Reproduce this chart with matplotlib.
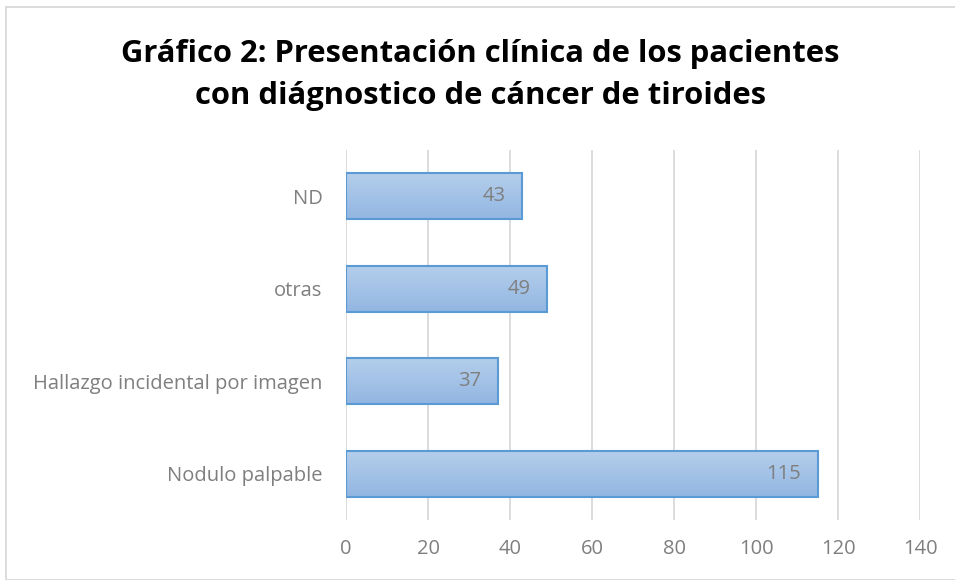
import numpy as np
import matplotlib.pyplot as plt
from matplotlib.patches import Rectangle
from matplotlib.colors import LinearSegmentedColormap

categories = ["Nodulo palpable", "Hallazgo incidental por imagen", "otras", "ND"]
values = [115, 37, 49, 43]
xticks = [0, 20, 40, 60, 80, 100, 120, 140]

title = "Gráfico 2: Presentación clínica de los pacientes\ncon diágnostico de cáncer de tiroides"

plt.rcParams['font.family'] = ['Open Sans', 'DejaVu Sans']

fig = plt.figure(figsize=(9.55, 5.8), dpi=100)
ax = fig.add_axes([346 / 955, 1 - 520 / 580, (920 - 346) / 955, (520 - 150) / 580])

# chart border
fig.patches.append(Rectangle((6 / 955, 0.0), 1.2, 1 - 7 / 580, transform=fig.transFigure,
                             fill=False, edgecolor='#d9d9d9', linewidth=1.3, zorder=0))

grad = np.linspace(0, 1, 100).reshape(-1, 1)
cmap = LinearSegmentedColormap.from_list('g', ['#92b6e2', '#b5cfeb'])

bars = ax.barh(range(len(categories)), values, height=0.5, color='none',
               edgecolor='#5b9bd5', linewidth=1.5, zorder=3)
for b, v in zip(bars, values):
    x0, y0 = b.get_x(), b.get_y()
    w, h = b.get_width(), b.get_height()
    im = ax.imshow(grad, cmap=cmap, aspect='auto', origin='lower',
                   extent=[x0, x0 + w, y0, y0 + h], zorder=2)
    im.set_clip_path(b)
    ax.text(v - 4, y0 + h / 2, str(v), ha='right', va='center',
            fontsize=14.5, color='#7f7f7f', zorder=4)

ax.set_xlim(0, 140)
ax.set_ylim(-0.5, len(categories) - 0.5)
ax.set_xticks(xticks)
ax.set_yticks(range(len(categories)))
ax.set_yticklabels(categories)
ax.grid(axis='x', color='#d9d9d9', linewidth=1.3, zorder=0)
ax.set_axisbelow(True)
for s in ax.spines.values():
    s.set_visible(False)
ax.tick_params(length=0, labelsize=14.5, labelcolor='#7f7f7f')
ax.tick_params(axis='x', pad=14)
ax.tick_params(axis='y', pad=17)

fig.text(0.5 * (6 + 955) / 955, 1 - 75 / 580, title, ha='center', va='center',
         fontsize=22.3, fontweight='bold', color='black', linespacing=1.55)

fig.savefig('out.png', dpi=100)
